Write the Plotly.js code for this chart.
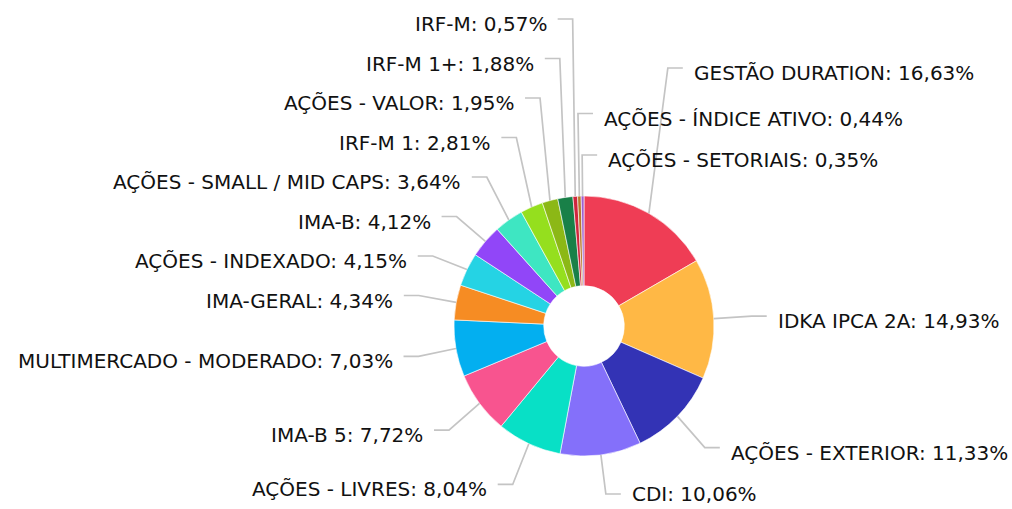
<!DOCTYPE html>
<html>
<head>
<meta charset="utf-8">
<script src="https://cdn.plot.ly/plotly-3.0.1.min.js"></script>
<style>html,body{margin:0;padding:0;background:#fff;}#chart{width:1012px;height:509px;}</style>
</head>
<body>
<div id="chart"></div>
<script>
// ---- data ----
const categories = ['GESTÃO DURATION', 'IDKA IPCA 2A', 'AÇÕES - EXTERIOR', 'CDI', 'AÇÕES - LIVRES',
  'IMA-B 5', 'MULTIMERCADO - MODERADO', 'IMA-GERAL', 'AÇÕES - INDEXADO', 'IMA-B',
  'AÇÕES - SMALL / MID CAPS', 'IRF-M 1', 'AÇÕES - VALOR', 'IRF-M 1+', 'IRF-M',
  'AÇÕES - ÍNDICE ATIVO', 'AÇÕES - SETORIAIS'];
const values = [16.63, 14.93, 11.33, 10.06, 8.04, 7.72, 7.03, 4.34, 4.15, 4.12, 3.64, 2.81, 1.95, 1.88, 0.57, 0.44, 0.35];
const colors = ['#ef3d55', '#ffb845', '#3333b5', '#8470fa', '#08e0c6', '#f8548f', '#03aff0', '#f68c23',
  '#25d3e4', '#9146f8', '#3ee6c2', '#95df1e', '#8cb816', '#198048', '#d0263e', '#b9772a', '#a060d0'];

// ---- layout constants ----
const W = 1012, H = 509;
const CX = 584, CY = 326, R = 130;
const HOLE = 0.31;
const RY = 175, LX = 38, SEG = 15, TXTGAP = 9, GAP = 39.5, TOP = 19, BOTTOM = 494;
const TEXT_DY = 5, TEXT_MAXY = H - 15;
const FONT = {family: 'DejaVu Sans, Verdana, sans-serif', size: 20, color: '#111'};

const px = x => x / W;
const py = y => 1 - y / H;
const fmt = v => v.toFixed(2).replace('.', ',') + '%';

// slice mid angles (clockwise from 12 o'clock), same as the pie's own partition
const total = values.reduce((a, b) => a + b, 0);
let acc = 0;
const items = values.map((v, i) => {
  const a0 = acc / total * 2 * Math.PI;
  acc += v;
  const a1 = acc / total * 2 * Math.PI;
  const th = (a0 + a1) / 2;
  const s = Math.sin(th), c = Math.cos(th);
  const ex = CX + R * s, ey = CY - R * c;
  return {i, th, s, ex, ey, kx: ex + LX * s, ny: CY - RY * c,
          left: s < -0.05, spill: s >= -0.05 && th > Math.PI};
});

function resolve(list, gap) {
  const n = list.length;
  list.forEach(it => it.y = it.ny);
  list[n - 1].y = Math.min(list[n - 1].y, BOTTOM);
  for (let k = n - 2; k >= 0; k--) list[k].y = Math.min(list[k].y, list[k + 1].y - gap);
  list[0].y = Math.max(list[0].y, TOP);
  for (let k = 1; k < n; k++) list[k].y = Math.max(list[k].y, list[k - 1].y + gap);
}

const leftList = items.filter(it => it.left).sort((a, b) => a.ny - b.ny);
const rightMain = items.filter(it => !it.left && !it.spill).sort((a, b) => a.th - b.th);
const rightSpill = items.filter(it => it.spill).sort((a, b) => a.th - b.th);
const rightList = [rightMain[0], ...rightSpill, ...rightMain.slice(1)];
resolve(leftList, GAP);
resolve(rightList, GAP + 2);
rightSpill.forEach(it => it.y += 4);

const shapes = [], annotations = [];
items.forEach(it => {
  const dir = it.left ? -1 : 1;
  const hx = it.kx + dir * SEG;
  shapes.push({
    type: 'path', xref: 'paper', yref: 'paper', layer: 'above',
    path: `M ${px(it.ex)},${py(it.ey)} L ${px(it.kx)},${py(it.y)} L ${px(hx)},${py(it.y)}`,
    line: {color: '#c4c4c4', width: 1.7}
  });
  annotations.push({
    xref: 'paper', yref: 'paper', x: px(hx + dir * TXTGAP), y: py(Math.min(it.y + TEXT_DY, TEXT_MAXY)),
    xanchor: it.left ? 'right' : 'left', yanchor: 'middle',
    showarrow: false, text: categories[it.i] + ': ' + fmt(values[it.i]), font: FONT
  });
});

const trace = {
  type: 'pie', labels: categories, values: values, sort: false, direction: 'clockwise',
  rotation: 0, hole: HOLE, textinfo: 'none', hoverinfo: 'label+percent',
  marker: {colors: colors, line: {color: '#ffffff', width: 0.6}},
  domain: {x: [px(CX - R), px(CX + R)], y: [py(CY + R), py(CY - R)]},
  showlegend: false
};

Plotly.newPlot('chart', [trace], {
  width: W, height: H, margin: {l: 0, r: 0, t: 0, b: 0},
  paper_bgcolor: '#ffffff', plot_bgcolor: '#ffffff', showlegend: false,
  shapes: shapes, annotations: annotations, font: FONT
}, {displayModeBar: false, staticPlot: true});
</script>
</body>
</html>
